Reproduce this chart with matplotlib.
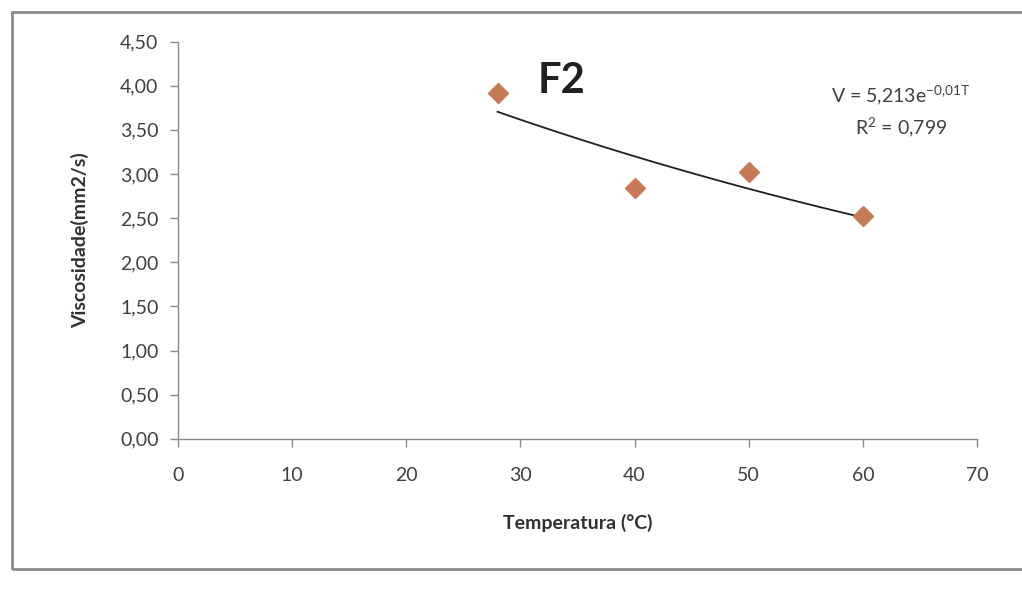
import numpy as np
import matplotlib.pyplot as plt
from matplotlib.patches import Rectangle

plt.rcParams['font.family'] = ['Lato', 'DejaVu Sans']
plt.rcParams['mathtext.fontset'] = 'custom'
plt.rcParams['mathtext.rm'] = 'Lato'
plt.rcParams['mathtext.it'] = 'Lato'

# dados F2
temperatura = [28, 40, 50, 60]
viscosidade = [3.92, 2.84, 3.02, 2.52]
x_ticks = [0, 10, 20, 30, 40, 50, 60, 70]
y_ticks = [0.0, 0.5, 1.0, 1.5, 2.0, 2.5, 3.0, 3.5, 4.0, 4.5]

# linha de tendência exponencial V = a*e^(bT)
coef_a = 5.213
coef_b = -0.0122
r2 = 0.799

fig = plt.figure(figsize=(10.22, 5.93), dpi=100)
ax = fig.add_axes([0.174, 0.26, 0.782, 0.67])

# borda do gráfico
fig.patches.append(Rectangle((0.012, 0.04), 1.2, 0.94, transform=fig.transFigure,
                             fill=False, edgecolor='#8a8a8a', linewidth=2.0))

ax.plot(temperatura, viscosidade, linestyle='none', marker='D', markersize=10,
        color='#c67a56', markeredgecolor='#c67a56', zorder=3)
tt = np.linspace(min(temperatura), max(temperatura), 100)
ax.plot(tt, coef_a * np.exp(coef_b * tt), color='#202020', linewidth=1.3, zorder=2)

ax.set_xlim(0, 70)
ax.set_ylim(0, 4.5)
ax.set_xticks(x_ticks)
ax.set_yticks(y_ticks)
ax.set_xticklabels([str(v) for v in x_ticks])
ax.set_yticklabels([f'{v:.2f}'.replace('.', ',') for v in y_ticks])
ax.tick_params(axis='both', labelsize=14, colors='#8a8a8a', labelcolor='#404040',
               direction='out', length=6, width=1)
ax.tick_params(axis='x', pad=14)
ax.tick_params(axis='y', pad=8)
for s in ['top', 'right']:
    ax.spines[s].set_visible(False)
for s in ['left', 'bottom']:
    ax.spines[s].set_color('#8a8a8a')
    ax.spines[s].set_linewidth(1.0)

ax.set_xlabel('Temperatura (°C)', fontsize=14, fontweight='bold', color='#303030', labelpad=22)
ax.set_ylabel('Viscosidade(mm2/s)', fontsize=14, fontweight='bold', color='#303030', labelpad=22)

ax.text(0.48, 0.90, 'F2', transform=ax.transAxes, fontsize=30, fontweight='bold',
        color='#202020', ha='center', va='center')

expo = f'{coef_b:.2f}'.replace('.', '{,}')
eq = 'V = ' + f'{coef_a:.3f}'.replace('.', ',') + 'e$^{' + expo + 'T}$'
ax.text(0.905, 0.865, eq, transform=ax.transAxes, fontsize=14, color='#404040',
        ha='center', va='center')
ax.text(0.905, 0.785, 'R$^2$ = ' + f'{r2:.3f}'.replace('.', ','), transform=ax.transAxes,
        fontsize=14, color='#404040', ha='center', va='center')

fig.savefig('out.png', dpi=100, facecolor='white')
